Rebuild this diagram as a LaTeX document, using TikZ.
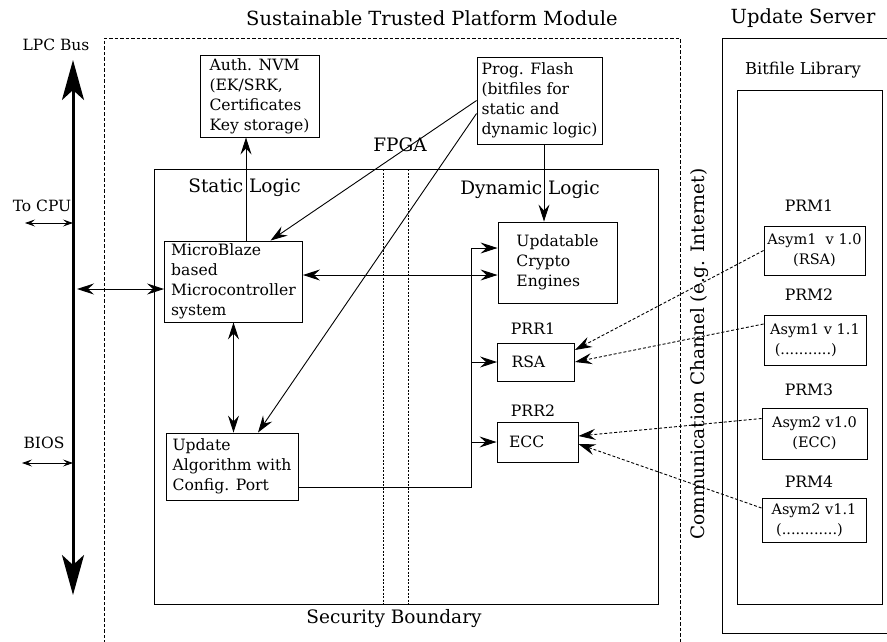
\documentclass[tikz,border=0pt]{standalone}
\usepackage{fontspec}
\setmainfont{DejaVu Serif}
\usetikzlibrary{arrows.meta,calc}

\begin{document}
\begin{tikzpicture}[x=1pt,y=-1pt,
  title/.style={font=\fontsize{19.5}{22}\selectfont},
  heading/.style={font=\fontsize{18.5}{22}\selectfont},
  tag/.style={font=\fontsize{15.7}{18}\selectfont},
  small/.style={font=\fontsize{15.5}{18}\selectfont},
  blk/.style={draw,line width=0.9pt,align=left,inner sep=0pt,font=\fontsize{15.6}{20}\selectfont},
  prmbox/.style={draw,line width=0.9pt,align=center,inner sep=0pt,font=\fontsize{14.5}{20}\selectfont},
  arr/.style={-{Stealth[length=17pt,width=11pt,inset=6pt]},line width=0.9pt},
  dbl/.style={{Stealth[length=17pt,width=11pt,inset=6pt]}-{Stealth[length=17pt,width=11pt,inset=6pt]},line width=0.9pt},
  tiny/.style={{Stealth[length=10pt,width=7pt,inset=4pt]}-{Stealth[length=10pt,width=7pt,inset=4pt]},line width=0.8pt},
  remote/.style={-{Stealth[length=17pt,width=11pt,inset=6pt]},line width=0.9pt,dash pattern=on 3pt off 2pt},
  bus/.style={{Stealth[length=40pt,width=22pt,inset=10pt]}-{Stealth[length=40pt,width=22pt,inset=10pt]},line width=3pt},
  wall/.style={line width=0.8pt,dash pattern=on 3.5pt off 2pt},
  split/.style={line width=0.8pt,dash pattern=on 2pt off 1.5pt},
  frame/.style={line width=0.9pt}
]
\useasboundingbox (0,0) rectangle (887,641);

% containers
\draw[wall] (104,660) -- (104,38) -- (680,38) -- (680,660);
\draw[frame] (154,169) rectangle (658,604);
\draw[split] (383,169) -- (383,604);
\draw[split] (408,169) -- (408,604);
\draw[frame] (895,38) -- (722,38) -- (722,633) -- (895,633);
\draw[frame] (737,90) rectangle (882,604);

% labels
\node[title] (tpm) at (432,18) {Sustainable Trusted Platform Module};
\node[title] (server) at (803,18) {Update Server};
\node[small,font=\fontsize{16.3}{18}\selectfont] (library) at (803,70) {Bitfile Library};
\node[small] (lpc) at (56,45) {LPC Bus};
\node[small] (tocpu) at (42,206) {To CPU};
\node[small] (bios) at (44,443) {BIOS};
\node[heading] (fpga) at (400,145) {FPGA};
\node[heading] (static) at (244.5,188) {Static Logic};
\node[heading] (dynamic) at (530,190) {Dynamic Logic};
\node[heading] (security) at (394,619) {Security Boundary};
\node[heading,rotate=90] (channel) at (700,354) {Communication Channel (e.g. Internet)};
\node[tag] (prr1) at (533,329) {PRR1};
\node[tag] (prr2) at (533,411) {PRR2};
\node[tag] (prm1lbl) at (809,206) {PRM1};
\node[tag] (prm2lbl) at (809,295) {PRM2};
\node[tag] (prm3lbl) at (809,390) {PRM3};
\node[tag] (prm4lbl) at (809,482) {PRM4};

% blocks
\node[blk,minimum width=119pt,minimum height=82pt] (nvm) at (259.5,96) {Auth. NVM\\(EK/SRK,\\Certificates\\Key storage)};
\node[blk,minimum width=125pt,minimum height=87pt] (flash) at (539.5,100.5) {Prog. Flash\\(bitfiles for\\static and\\dynamic logic)};
\node[blk,minimum width=138pt,minimum height=81pt] (mb) at (233.5,281.5) {MicroBlaze\\based\\Microcontroller\\system};
\node[blk,minimum width=132pt,minimum height=67pt] (upd) at (232,466.5) {Update\\Algorithm with\\Config. Port};
\node[blk,minimum width=119pt,minimum height=81pt] (crypto) at (557.5,262.5) {Updatable\\Crypto\\Engines};
\node[blk,text width=49pt,inner xsep=14pt,minimum height=38pt] (rsa) at (536,362) {RSA};
\node[blk,text width=57pt,inner xsep=12pt,minimum height=40pt] (ecc) at (537.5,442) {ECC};

\node[prmbox,minimum width=101pt,minimum height=49pt] (prm1) at (814.5,250.5) {Asym1~ v 1.0\\(RSA)};
\node[prmbox,align=left,minimum width=102pt,minimum height=50pt] (prm2) at (815,340) {Asym1 v 1.1\\~(...........)};
\node[prmbox,minimum width=105pt,minimum height=51pt] (prm3) at (814.5,433.5) {Asym2 v1.0\\(ECC)};
\node[prmbox,align=left,minimum width=104pt,minimum height=44pt] (prm4) at (814,520) {Asym2 v1.1\\~(............)};

% LPC bus
\coordinate (bustop) at (73,60);
\coordinate (busbot) at (73,595);
\coordinate (cpu) at (25,223);
\coordinate (biosend) at (22,463);
\coordinate (mbport) at (77,289);
\draw[bus] (bustop) -- (busbot);
\draw[tiny] (cpu) -- (cpu -| bustop);
\draw[tiny] (biosend) -- (biosend -| bustop);
\draw[dbl] (mbport) -- (mbport -| mb.west);

% static side
\draw[arr] ([xshift=12.5pt]mb.north) -- ([xshift=12.5pt]mb.north |- nvm.south);
\draw[arr] (flash.west) -- ([xshift=37pt]mb.north);
\draw[arr] ([yshift=-13pt]flash.west) -- ([xshift=26pt]upd.north);
\draw[dbl] (mb.south) -- (mb.south |- upd.north);
\coordinate (link) at (0,275);
\draw[dbl] (mb.east |- link) -- (crypto.west |- link);
\draw[arr] ([xshift=4.5pt]flash.south) -- ([xshift=4.5pt]flash.south |- crypto.north);

% config port feed
\coordinate (feed) at (471,487);
\coordinate (feedtop) at (471,248);
\draw[frame] (upd.east |- feed) -- (feed) -- (feedtop);
\draw[arr] (feedtop) -- (feedtop -| crypto.west);
\draw[arr] (feed |- rsa.west) -- (rsa.west);
\draw[arr] (feed |- ecc.west) -- (ecc.west);

% bitfile downloads
\draw[remote] (prm1.west) -- ([yshift=12pt]rsa.east);
\draw[remote] ([yshift=16pt]prm2.west) -- (rsa.east);
\draw[remote] ([yshift=15pt]prm3.west) -- ([yshift=6pt]ecc.east);
\draw[remote] ([yshift=12pt]prm4.west) -- ([yshift=-2pt]ecc.east);
\end{tikzpicture}
\end{document}
